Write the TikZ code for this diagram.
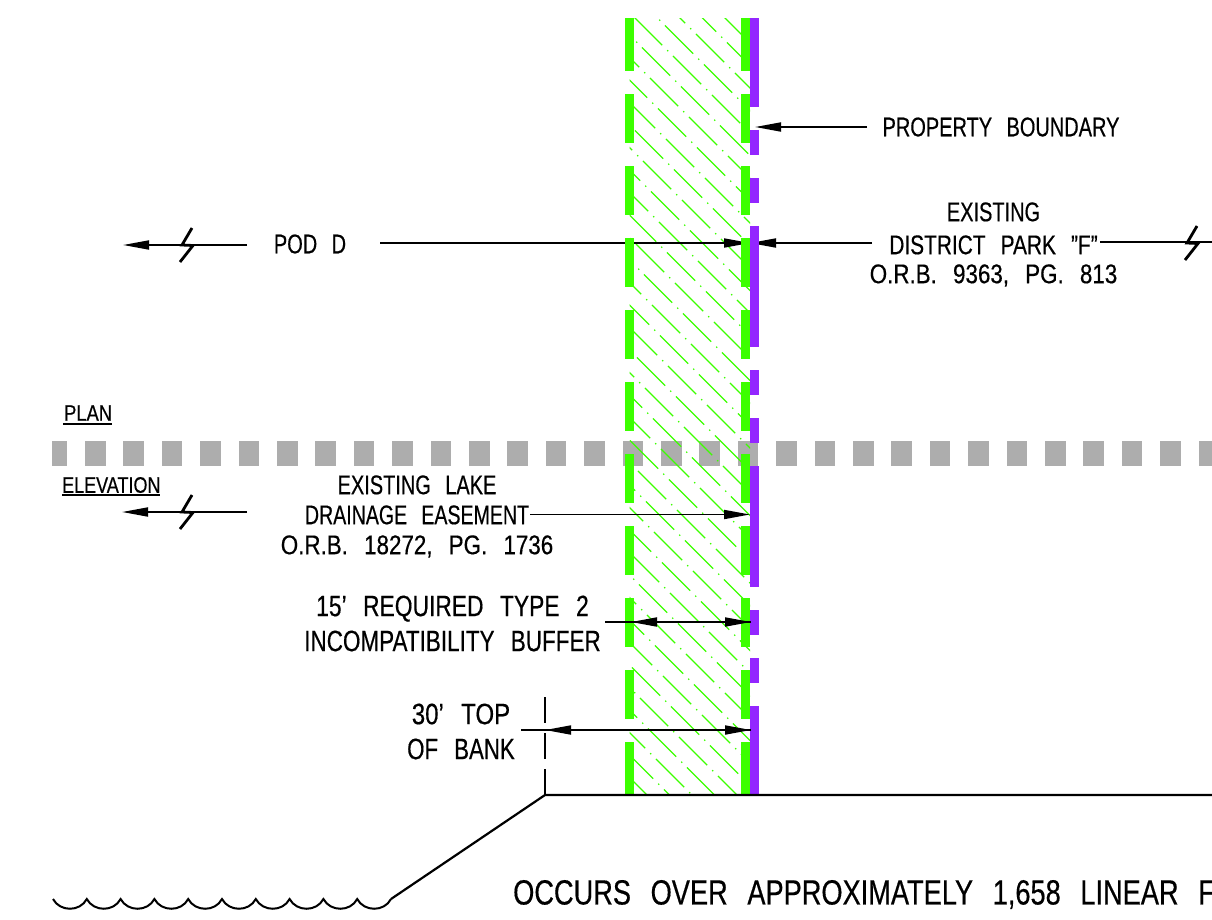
\documentclass[tikz,border=0pt]{standalone}
\usepackage{graphicx}
\usepackage{fontspec}
\setmainfont[FakeStretch=0.74,WordSpace=2.6,FakeBold=0.4]{Liberation Sans}
\usetikzlibrary{arrows.meta}
\definecolor{buffergreen}{HTML}{3CFF00}
\definecolor{parkpurple}{HTML}{9326FF}
\definecolor{cutgray}{HTML}{ADADAD}
\newcommand{\wider}[2]{\scalebox{#1}[1]{#2}}
\tikzset{
  note/.style={inner sep=0pt,align=center,font=\fontsize{27}{30}\selectfont},
  big note/.style={note,font=\fontsize{29.5}{30}\selectfont},
  small note/.style={inner sep=0pt,font=\fontsize{22.5}{24}\selectfont},
  leader/.style={draw,line width=1.8pt,-{Triangle[length=26pt,width=9pt]}},
  plainline/.style={draw,line width=1.8pt},
  breakmark/.style={draw,line width=2.8pt},
  hatch/.style={draw=buffergreen,line width=1.1pt,dash pattern=on 40pt off 7pt on 1.5pt off 6.65pt},
  bank/.style={draw,line width=2.2pt}
}
\begin{document}
\begin{tikzpicture}[x=1pt,y=-1pt]
  \useasboundingbox (0,0) rectangle (1212,919);
  \clip (0,0) rectangle (1212,919);
  % labels
  \node[note] (boundary) at (1001,127) {PROPERTY BOUNDARY};
  \node[note] (park) at (993.5,244.5) {EXISTING\\[3pt]\wider{1.045}{DISTRICT PARK "F"}\\[-1pt]\wider{1.12}{O.R.B. 9363, PG. 813}};
  \node[note] (pod) at (310,244) {POD D};
  \node[note] (lake) at (417,516.5) {EXISTING LAKE\\\wider{0.98}{DRAINAGE EASEMENT}\\\wider{1.12}{O.R.B. 18272, PG. 1736}};
  \node[big note] (buffer) at (452.5,623.5) {\wider{1.045}{15' REQUIRED TYPE 2}\\[5pt]\wider{1.03}{INCOMPATIBILITY BUFFER}};
  \node[big note] (bankTop) at (461,731.5) {\wider{1.1}{30' TOP}\\[5pt]\wider{1.02}{OF BANK}};
  \node[note,anchor=west,font=\fontsize{35}{36}\selectfont] (occurs) at (513,894.5) {\wider{1.05}{OCCURS OVER APPROXIMATELY 1,658 LINEAR F}};
  \node[small note,anchor=west] (plan) at (64,413) {\wider{1.1}{PLAN}};
  \node[small note,anchor=west] (elevation) at (62,485) {\wider{1.08}{ELEVATION}};
  % coordinates
  \coordinate (planL) at (63,424);
  \coordinate (planR) at (112,424);
  \coordinate (elevL) at (62,495);
  \coordinate (elevR) at (160,495);
  \coordinate (podTail) at (380,243);
  \coordinate (podTip) at (750,243);
  \coordinate (parkTail) at (872,243);
  \coordinate (parkTip) at (750,243);
  \coordinate (parkStart) at (1100,242);
  \coordinate (parkEnd) at (1212,242);
  \coordinate (boundaryTail) at (867,127);
  \coordinate (boundaryTip) at (755,127);
  \coordinate (lakeTail) at (530,514.5);
  \coordinate (lakeTip) at (750,514.5);
  \coordinate (bufferL) at (631,622);
  \coordinate (bufferR) at (751,622);
  \coordinate (bufferTail) at (605,622);
  \coordinate (bankL) at (545,730);
  \coordinate (bankR) at (751,730);
  \coordinate (bankTail) at (521,730);
  \coordinate (crest) at (545,795);
  \coordinate (toe) at (391,899);
  \coordinate (farBank) at (1212,795);
  \coordinate (podBackTail) at (247,245);
  \coordinate (podBackTip) at (123,245);
  \coordinate (lakeBackTail) at (247,512);
  \coordinate (lakeBackTip) at (122,512);
  % underlines
  \path[plainline] (planL) -- (planR);
  \path[plainline] (elevL) -- (elevR);
  % cut line
  \fill[cutgray] (52,441) rectangle (67,466);
  \foreach \i in {0,...,29}{
    \fill[cutgray] ({85+38.4*\i},441) rectangle ++(20.5,25);
  }
  % hatching
  \begin{scope}
    \clip (629.5,18) rectangle (750,795);
    \foreach \j in {-35,...,6}{
      \pgfmathsetmacro{\sx}{634-8*\j-39*30}
      \pgfmathsetmacro{\sy}{\sx-617-22.5*\j}
      \path[hatch] (\sx,\sy) -- ++(1500,1500);
    }
  \end{scope}
  % leaders under the bars
  \path[leader] (podTail) -- (podTip);
  \path[leader] (parkTail) -- (parkTip);
  % bars
  \foreach \a/\b in {18/71,94/143,166/215,238/287,310/359,382/431,454/503,526/575,598/647,670/719,742/795}{
    \fill[buffergreen] (625,\a) rectangle (634,\b);
    \fill[buffergreen] (741,\a) rectangle (750,\b);
  }
  \foreach \a/\b in {18/107,130/155,178/203,226/347,370/395,418/443,466/587,610/635,658/683,706/795}{
    \fill[parkpurple] (750,\a) rectangle (759,\b);
  }
  % leaders
  \path[leader] (boundaryTail) -- (boundaryTip);
  \path[leader] (lakeTail) -- (lakeTip);
  \path[leader] (bufferTail) -- (bufferR);
  \path[leader] (bufferR) -- (bufferL);
  \path[leader] (bankTail) -- (bankR);
  \path[leader] (bankR) -- (bankL);
  \path[leader] (podBackTail) -- (podBackTip);
  \path[leader] (lakeBackTail) -- (lakeBackTip);
  \path[plainline] (parkStart) -- (parkEnd);
  % breaks
  \foreach \x/\y in {186/245,186/512,1191/243}{
    \path[breakmark] (\x-6,\y+17) -- (\x+7,\y+0.5) -- (\x-4,\y) -- (\x+6,\y-17);
  }
  % top of bank
  \path[plainline] (545,697) -- (545,723);
  \path[plainline] (545,733) -- (545,759);
  \path[plainline] (545,769) -- (crest);
  \path[bank] (toe) -- (crest) -- (farBank);
  \draw[line width=2pt] (53,899) \foreach \i in {0,...,9}{
    .. controls ({53+33.8*\i+7},{899+13}) and ({53+33.8*\i+27},{899+13}) .. ({53+33.8*(\i+1)},899)
  };
\end{tikzpicture}
\end{document}
